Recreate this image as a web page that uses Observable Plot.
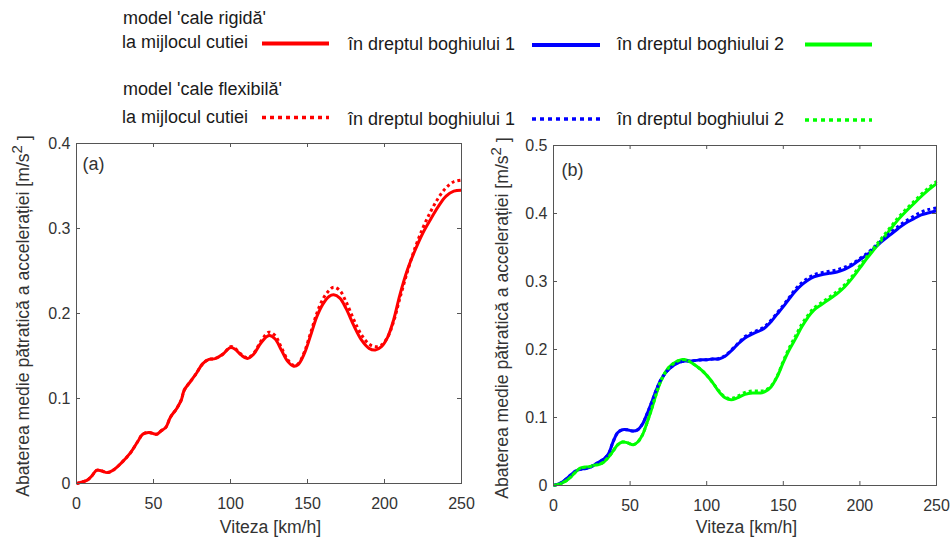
<!DOCTYPE html>
<html><head><meta charset="utf-8">
<script src="https://cdn.jsdelivr.net/npm/d3@7"></script>
<script src="https://cdn.jsdelivr.net/npm/@observablehq/plot@0.6"></script>
<style>
html,body{margin:0;padding:0;background:#fff;}
#root{position:relative;width:952px;height:540px;overflow:hidden;font-family:"Liberation Sans",Arial,sans-serif;}
#legend{position:absolute;left:0;top:0;}
#pa{position:absolute;left:0;top:130px;}
#pb{position:absolute;left:476px;top:130px;}
</style></head><body>
<div id="root"><svg id="legend" width="952" height="130"></svg><div id="pa"></div><div id="pb"></div></div>
<script>
// ---------- data ----------
const xTicks = [0, 50, 100, 150, 200, 250];
const aYTicks = [0, 0.1, 0.2, 0.3, 0.4];
const bYTicks = [0, 0.1, 0.2, 0.3, 0.4, 0.5];
const xLabel = "Viteza [km/h]";
const yLabelMain = "Abaterea medie pătratică a accelerației [m/s";
const yLabelSup = "2";
const yLabelEnd = " ]";
const panelTags = ["(a)", "(b)"];

const legendGroups = ["model 'cale rigidă'", "model 'cale flexibilă'"];
const legendItems = ["la mijlocul cutiei", "în dreptul boghiului 1", "în dreptul boghiului 2"];
const seriesColors = ["#ff0000", "#0000ff", "#00ff00"];

// panel (a): la mijlocul cutiei
const aSpeed = [0,2,7,10,13,16,20,24,29,35,40,43,47,52,55,58,61,65,68,70,74,78,82,86,90,95,100,103,107,111,115,120,125,129,133,137,141,144,148,152,156,160,164,167,171,175,180,185,190,194,198,202,206,210,215,220,225,230,235,240,245,250];
const aRigid = [0,0.001,0.004,0.009,0.0155,0.015,0.0128,0.016,0.024,0.036,0.05,0.058,0.06,0.058,0.062,0.066,0.078,0.088,0.098,0.11,0.12,0.13,0.141,0.146,0.147,0.152,0.160,0.158,0.151,0.147,0.152,0.166,0.174,0.170,0.157,0.144,0.138,0.14,0.153,0.174,0.196,0.211,0.220,0.222,0.218,0.206,0.186,0.169,0.159,0.157,0.161,0.172,0.193,0.222,0.252,0.275,0.295,0.311,0.326,0.338,0.344,0.345];
const aFlex = [0,0.001,0.004,0.009,0.0155,0.015,0.0128,0.016,0.024,0.036,0.05,0.058,0.06,0.058,0.062,0.066,0.078,0.088,0.098,0.11,0.12,0.13,0.141,0.146,0.147,0.152,0.161,0.159,0.152,0.148,0.153,0.168,0.178,0.174,0.160,0.146,0.139,0.141,0.155,0.177,0.200,0.217,0.227,0.231,0.227,0.214,0.193,0.175,0.164,0.161,0.163,0.172,0.191,0.218,0.250,0.278,0.301,0.320,0.336,0.348,0.355,0.357];

// panel (b): boghiul 1 (blue), boghiul 2 (green)
const bSpeed = [0,5,10,15,18,21,24,27,30,33,36,39,42,45,48,52,55,58,61,64,67,70,74,78,82,86,89,93,97,100,104,108,112,116,120,125,130,135,138,142,146,150,154,158,162,166,170,175,180,185,190,195,200,205,210,215,220,225,230,235,240,245,250];
const b1Rigid = [0,0.004,0.013,0.022,0.024,0.025,0.027,0.031,0.035,0.039,0.047,0.065,0.078,0.082,0.082,0.080,0.082,0.090,0.105,0.122,0.140,0.155,0.168,0.176,0.181,0.183,0.183,0.184,0.185,0.185,0.186,0.186,0.190,0.198,0.207,0.217,0.223,0.228,0.232,0.241,0.252,0.263,0.275,0.286,0.295,0.302,0.307,0.310,0.312,0.314,0.318,0.324,0.332,0.340,0.350,0.360,0.369,0.378,0.386,0.392,0.398,0.401,0.404];
const b1Flex = [0,0.004,0.013,0.022,0.024,0.025,0.027,0.031,0.035,0.039,0.047,0.065,0.078,0.082,0.082,0.080,0.082,0.090,0.105,0.122,0.140,0.155,0.168,0.176,0.181,0.183,0.183,0.184,0.185,0.185,0.186,0.187,0.191,0.199,0.208,0.219,0.225,0.230,0.234,0.243,0.254,0.265,0.277,0.289,0.298,0.305,0.310,0.313,0.315,0.317,0.321,0.326,0.334,0.342,0.352,0.362,0.372,0.381,0.389,0.396,0.402,0.406,0.408];
const b2Rigid = [0,0.003,0.010,0.021,0.026,0.027,0.028,0.030,0.031,0.035,0.042,0.051,0.060,0.064,0.063,0.060,0.064,0.074,0.092,0.112,0.134,0.153,0.170,0.179,0.184,0.185,0.182,0.176,0.169,0.162,0.151,0.138,0.129,0.126,0.129,0.134,0.136,0.136,0.138,0.145,0.160,0.181,0.200,0.216,0.233,0.247,0.258,0.266,0.274,0.282,0.292,0.305,0.320,0.335,0.349,0.363,0.377,0.391,0.403,0.414,0.425,0.435,0.444];
const b2Flex = [0,0.003,0.010,0.021,0.026,0.027,0.028,0.030,0.031,0.035,0.042,0.051,0.060,0.064,0.063,0.060,0.064,0.074,0.092,0.112,0.134,0.153,0.170,0.179,0.184,0.185,0.182,0.176,0.169,0.162,0.151,0.139,0.130,0.128,0.131,0.137,0.139,0.139,0.140,0.146,0.161,0.183,0.203,0.220,0.237,0.250,0.261,0.269,0.277,0.285,0.295,0.308,0.323,0.338,0.352,0.366,0.380,0.394,0.406,0.417,0.428,0.438,0.447];

// ---------- styles ----------
const FONT = '"Liberation Sans", Arial, sans-serif';
const AXIS = "#555";
const TEXT = "#333";
const DOT = "3,3";

function pts(xs, ys) { return xs.map((x, i) => ({x, y: ys[i]})); }

function panel(el, o) {
  const fw = o.width - o.ml - o.mr, fh = o.height - o.mt - o.mb;
  const lines = o.series.map(s => Plot.line(pts(s.x, s.y), {
    x: "x", y: "y", stroke: s.color, strokeWidth: 3, curve: "catmull-rom",
    strokeDasharray: s.dotted ? DOT : null, strokeLinecap: "butt"
  }));
  const chart = Plot.plot({
    width: o.width, height: o.height,
    marginTop: o.mt, marginBottom: o.mb, marginLeft: o.ml, marginRight: o.mr,
    style: {fontFamily: FONT, fontSize: "16px", color: TEXT, background: "transparent", overflow: "visible"},
    x: {domain: [0, 250]},
    y: {domain: o.yDomain},
    marks: [
      Plot.axisX({ticks: xTicks, tickSize: 0, tickPadding: 14, label: null, tickFormat: d => String(d), fontSize: 16, fill: TEXT}),
      Plot.axisY({ticks: o.yTicks, tickSize: 0, tickPadding: 6, label: null, tickFormat: d => String(d), fontSize: 16, fill: TEXT}),
      ...lines,
      Plot.tickX(xTicks, {x: d => d, stroke: AXIS, insetTop: fh - 4}),
      Plot.tickX(xTicks, {x: d => d, stroke: AXIS, insetBottom: fh - 4}),
      Plot.tickY(o.yTicks, {y: d => d, stroke: AXIS, insetRight: fw - 4}),
      Plot.tickY(o.yTicks, {y: d => d, stroke: AXIS, insetLeft: fw - 4}),
      Plot.frame({stroke: AXIS, strokeWidth: 1}),
      Plot.text([o.tag], {text: d => d, frameAnchor: "top-left", dx: o.tagDx, dy: o.tagDy, textAnchor: "start", lineAnchor: "middle", fontSize: 18, fill: TEXT})
    ]
  });
  const svg = d3.select(chart);
  const yl = svg.append("text")
    .attr("transform", `translate(${o.yLabelX},${o.mt + fh / 2 + 3}) rotate(-90)`)
    .attr("text-anchor", "middle")
    .attr("font-size", 17.6).attr("fill", TEXT).attr("font-family", FONT);
  yl.append("tspan").text(yLabelMain);
  yl.append("tspan").attr("dy", "-0.45em").attr("font-size", 15).text(yLabelSup);
  yl.append("tspan").attr("dy", "0.45em").text(yLabelEnd);
  svg.append("text")
    .attr("x", o.ml + fw / 2 + 2).attr("y", o.xLabelY)
    .attr("text-anchor", "middle").attr("font-size", 17.6).attr("fill", TEXT).attr("font-family", FONT)
    .text(xLabel);
  el.appendChild(chart);
}

panel(document.getElementById("pa"), {
  width: 476, height: 410, mt: 13, mb: 57, ml: 76, mr: 15,
  yDomain: [0, 0.4], yTicks: aYTicks, tag: panelTags[0], tagDx: 6, tagDy: 21,
  yLabelX: 29, xLabelY: 403,
  series: [
    {x: aSpeed, y: aRigid, color: seriesColors[0], dotted: false},
    {x: aSpeed, y: aFlex, color: seriesColors[0], dotted: true}
  ]
});

panel(document.getElementById("pb"), {
  width: 476, height: 410, mt: 15, mb: 55, ml: 77, mr: 16,
  yDomain: [0, 0.5], yTicks: bYTicks, tag: panelTags[1], tagDx: 8, tagDy: 25,
  yLabelX: 32, xLabelY: 403,
  series: [
    {x: bSpeed, y: b1Rigid, color: seriesColors[1], dotted: false},
    {x: bSpeed, y: b2Rigid, color: seriesColors[2], dotted: false},
    {x: bSpeed, y: b1Flex, color: seriesColors[1], dotted: true},
    {x: bSpeed, y: b2Flex, color: seriesColors[2], dotted: true}
  ]
});

// ---------- legend ----------
const LG = {
  titleX: 123, titleY: [24, 95],
  itemX: [122, 348, 617],
  itemY: [[47.5, 50, 50], [123, 125, 125]],
  lineX: [[262, 329], [532, 600], [805, 872]],
  lineY: [[43.5, 45, 44.5], [117.5, 119, 120]]
};
const lg = d3.select("#legend").attr("font-family", FONT);
legendGroups.forEach((g, r) => {
  lg.append("text").attr("x", LG.titleX).attr("y", LG.titleY[r]).attr("font-size", 18).attr("fill", "#1a1a1a").text(g);
  legendItems.forEach((it, c) => {
    lg.append("text").attr("x", LG.itemX[c]).attr("y", LG.itemY[r][c]).attr("font-size", 18).attr("fill", "#1a1a1a").text(it);
    lg.append("line")
      .attr("x1", LG.lineX[c][0]).attr("x2", LG.lineX[c][1])
      .attr("y1", LG.lineY[r][c]).attr("y2", LG.lineY[r][c])
      .attr("stroke", seriesColors[c])
      .attr("stroke-width", r === 0 ? 4 : 3.5)
      .attr("stroke-dasharray", r === 0 ? null : "4,4");
  });
});
</script>
</body></html>
